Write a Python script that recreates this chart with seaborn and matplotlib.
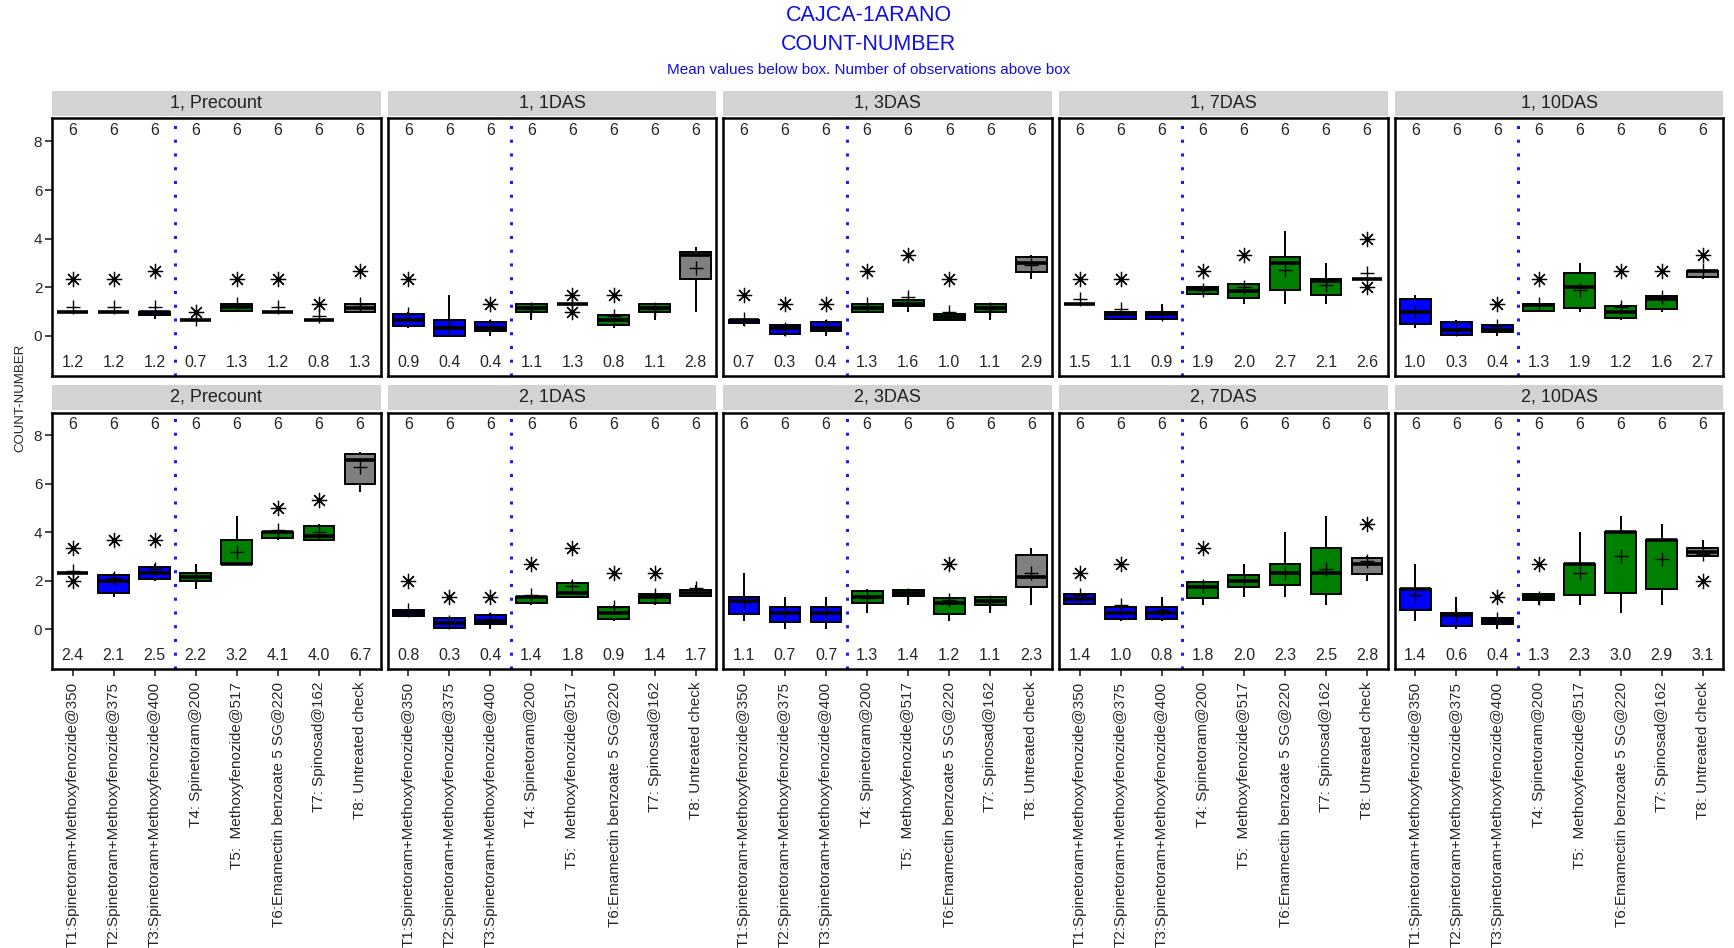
import numpy as np
import pandas as pd
import matplotlib.pyplot as plt
import seaborn as sns

treatments = ['T1:Spinetoram+Methoxyfenozide@350',
              'T2:Spinetoram+Methoxyfenozide@375',
              'T3:Spinetoram+Methoxyfenozide@400',
              'T4: Spinetoram@200',
              'T5:  Methoxyfenozide@517',
              'T6:Emamectin benzoate 5 SG@220',
              'T7: Spinosad@162',
              'T8: Untreated check']
days = ['Precount', '1DAS', '3DAS', '7DAS', '10DAS']
reps = ['1', '2']

# six observations per treatment
obs_1_precount = [[1, 1, 1, 1, 1, 2.33], [1, 1, 1, 1, 1, 2.33], [0.7, 0.8, 1, 1, 1, 2.67],
                  [0.67, 0.67, 0.67, 0.67, 0.67, 1.0], [1.0, 1.0, 1.17, 1.2, 1.33, 2.33],
                  [1, 1, 1, 1, 1, 2.33], [0.67, 0.67, 0.67, 0.67, 0.67, 1.33],
                  [1.0, 1.0, 1.0, 1.33, 1.33, 2.67]]
obs_1_1das = [[0.33, 0.33, 0.67, 0.67, 1.0, 2.33], [0, 0, 0, 0.67, 0.67, 1.67],
              [0, 0.17, 0.33, 0.33, 0.67, 1.33], [0.67, 1, 1, 1.33, 1.33, 1.33],
              [1.0, 1.33, 1.33, 1.33, 1.33, 1.67], [0.33, 0.4, 0.67, 0.67, 0.9, 1.67],
              [0.67, 1, 1, 1.33, 1.33, 1.33], [1.0, 2.0, 3.33, 3.33, 3.5, 3.67]]
obs_1_3das = [[0.4, 0.5, 0.67, 0.67, 0.67, 1.67], [0, 0, 0.33, 0.33, 0.5, 1.33],
              [0, 0.17, 0.33, 0.33, 0.67, 1.33], [1.0, 1.0, 1.0, 1.33, 1.33, 2.67],
              [1.0, 1.17, 1.33, 1.33, 1.5, 3.33], [0.67, 0.67, 0.67, 0.9, 0.9, 2.33],
              [0.67, 1, 1, 1.33, 1.33, 1.33], [2.33, 2.5, 3.0, 3.0, 3.33, 3.33]]
obs_1_7das = [[1.33, 1.33, 1.33, 1.33, 1.33, 2.33], [0.67, 0.67, 0.83, 1.0, 1.0, 2.33],
              [0.67, 0.67, 0.83, 1.0, 1.0, 1.33], [1.67, 1.67, 1.83, 2.0, 2.0, 2.67],
              [1.33, 1.5, 1.67, 2.0, 2.17, 3.33], [1.33, 1.5, 3.0, 3.0, 3.33, 4.33],
              [1.33, 1.5, 2.17, 2.33, 2.33, 3.0], [2.0, 2.33, 2.33, 2.33, 2.33, 4.0]]
obs_1_10das = [[0.33, 0.33, 1.0, 1.0, 1.67, 1.67], [0, 0, 0.17, 0.33, 0.67, 0.67],
               [0, 0.17, 0.17, 0.33, 0.5, 1.33], [1.0, 1.0, 1.17, 1.33, 1.33, 2.33],
               [1.0, 1.0, 1.67, 2.33, 2.67, 3.0], [0.67, 0.67, 1.0, 1.0, 1.33, 2.67],
               [1.0, 1.0, 1.5, 1.5, 1.67, 2.67], [2.33, 2.33, 2.67, 2.67, 2.67, 3.33]]
obs_2_precount = [[2.0, 2.33, 2.33, 2.33, 2.33, 3.33], [1.33, 1.33, 2.0, 2.0, 2.33, 3.67],
                  [2.0, 2.0, 2.33, 2.33, 2.67, 3.67], [1.67, 2.0, 2.0, 2.33, 2.33, 2.67],
                  [2.67, 2.67, 2.67, 2.67, 4.0, 4.67], [3.67, 3.67, 4.0, 4.0, 4.0, 5.0],
                  [3.67, 3.67, 3.67, 4.0, 4.33, 5.33], [5.67, 5.67, 7.0, 7.0, 7.33, 7.33]]
obs_2_1das = [[0.5, 0.5, 0.67, 0.67, 0.83, 2.0], [0, 0, 0.17, 0.33, 0.5, 1.33],
              [0, 0.17, 0.33, 0.33, 0.67, 1.33], [1.0, 1.0, 1.33, 1.33, 1.33, 2.67],
              [1.33, 1.33, 1.33, 1.67, 2.0, 3.33], [0.33, 0.33, 0.67, 0.67, 1.0, 2.33],
              [1.0, 1.0, 1.33, 1.33, 1.5, 2.33], [1.33, 1.33, 1.5, 1.5, 1.67, 1.83]]
obs_2_3das = [[0.33, 0.5, 1.0, 1.33, 1.33, 2.33], [0, 0.17, 0.67, 0.67, 1.0, 1.33],
              [0, 0.17, 0.67, 0.67, 1.0, 1.33], [0.67, 1.0, 1.33, 1.33, 1.67, 1.67],
              [1.0, 1.33, 1.5, 1.5, 1.67, 1.67], [0.33, 0.5, 1.0, 1.17, 1.33, 2.67],
              [0.67, 1.0, 1.0, 1.33, 1.33, 1.33], [1.0, 1.67, 2.0, 2.33, 3.33, 3.33]]
obs_2_7das = [[1.0, 1.0, 1.17, 1.33, 1.5, 2.33], [0.33, 0.33, 0.67, 0.67, 1.0, 2.67],
              [0.33, 0.33, 0.67, 0.67, 1.0, 1.33], [1.0, 1.17, 1.67, 1.83, 2.0, 3.33],
              [1.33, 1.67, 2.0, 2.0, 2.33, 2.67], [1.33, 1.67, 2.33, 2.33, 2.83, 4.0],
              [1.0, 1.17, 2.33, 2.33, 3.67, 4.67], [2.0, 2.17, 2.67, 2.67, 3.0, 4.33]]
obs_2_10das = [[0.33, 0.5, 1.67, 1.67, 1.67, 2.67], [0, 0, 0.5, 0.67, 0.67, 1.33],
               [0, 0.17, 0.33, 0.33, 0.5, 1.33], [1.0, 1.17, 1.33, 1.33, 1.5, 2.67],
               [1.0, 1.0, 2.67, 2.67, 2.67, 4.0], [0.67, 0.67, 4.0, 4.0, 4.0, 4.67],
               [1.0, 1.0, 3.67, 3.67, 3.67, 4.33], [2.0, 3.0, 3.0, 3.33, 3.33, 3.67]]

# mean values printed below the boxes
means_rep1 = [[1.2, 1.2, 1.2, 0.7, 1.3, 1.2, 0.8, 1.3],
              [0.9, 0.4, 0.4, 1.1, 1.3, 0.8, 1.1, 2.8],
              [0.7, 0.3, 0.4, 1.3, 1.6, 1.0, 1.1, 2.9],
              [1.5, 1.1, 0.9, 1.9, 2.0, 2.7, 2.1, 2.6],
              [1.0, 0.3, 0.4, 1.3, 1.9, 1.2, 1.6, 2.7]]
means_rep2 = [[2.4, 2.1, 2.5, 2.2, 3.2, 4.1, 4.0, 6.7],
              [0.8, 0.3, 0.4, 1.4, 1.8, 0.9, 1.4, 1.7],
              [1.1, 0.7, 0.7, 1.3, 1.4, 1.2, 1.1, 2.3],
              [1.4, 1.0, 0.8, 1.8, 2.0, 2.3, 2.5, 2.8],
              [1.4, 0.6, 0.4, 1.3, 2.3, 3.0, 2.9, 3.1]]

obs = [[obs_1_precount, obs_1_1das, obs_1_3das, obs_1_7das, obs_1_10das],
       [obs_2_precount, obs_2_1das, obs_2_3das, obs_2_7das, obs_2_10das]]
means = [means_rep1, means_rep2]

rows = []
for r, rep in enumerate(reps):
    for d, day in enumerate(days):
        for t, trt in enumerate(treatments):
            for v in obs[r][d][t]:
                rows.append({'rep': rep, 'day': day, 'trt': trt, 'count': v})
df = pd.DataFrame(rows)

colors = ['#0000FF'] * 3 + ['#008000'] * 4 + ['#808080']
pal = dict(zip(treatments, colors))

sns.set_style('white')
plt.rcParams['font.family'] = ['Liberation Sans', 'DejaVu Sans']

W, H = 1734, 948
fig = plt.figure(figsize=(W / 100, H / 100), dpi=100)

ylo, yhi = -1.65, 8.95
pw = 328.5
row_top = [118.3, 412.5]
row_bot = [376.0, 669.0]
strip_top = [90.7, 385.0]

for r, rep in enumerate(reps):
    for d, day in enumerate(days):
        x0 = 52 + d * 335.7
        ax = fig.add_axes([x0 / W, 1 - row_bot[r] / H, pw / W,
                           (row_bot[r] - row_top[r]) / H])
        sub = df[(df['rep'] == rep) & (df['day'] == day)]
        sns.boxplot(data=sub, x='trt', y='count', hue='trt', order=treatments,
                    hue_order=treatments, palette=pal, saturation=1, legend=False,
                    width=0.75, linecolor='black', linewidth=1.4, showcaps=False,
                    whis=1.5, ax=ax,
                    medianprops=dict(color='black', linewidth=2.6),
                    flierprops=dict(marker=(8, 2, 0), markersize=11,
                                    markeredgecolor='black', markeredgewidth=0.9))
        m = means[r][d]
        ax.plot(range(len(treatments)), m, linestyle='none', marker='+',
                color='black', markersize=10, markeredgewidth=1.0, zorder=6)
        for i, trt in enumerate(treatments):
            n = len(obs[r][d][i])
            ax.text(i, 8.45, str(n), ha='center', va='center', fontsize=11.5)
            ax.text(i, -1.1, f'{m[i]:.1f}', ha='center', va='center', fontsize=11.5)
        ax.axvline(2.5, color='#1a1aff', linestyle=(0, (1, 3.5)), linewidth=2.2)
        ax.set_xlim(-0.5, 7.5)
        ax.set_ylim(ylo, yhi)
        ax.set_xlabel('')
        ax.set_ylabel('')
        for s in ax.spines.values():
            s.set_linewidth(1.8)
            s.set_color('black')
        if d == 0:
            ax.set_yticks([0, 2, 4, 6, 8])
            ax.tick_params(axis='y', left=True, length=5, width=1.2, labelsize=11, pad=2)
        else:
            ax.set_yticks([])
        if r == 1:
            ax.tick_params(axis='x', bottom=True, length=5, width=1.2, pad=4.3)
            ax.set_xticks(range(len(treatments)))
            ax.set_xticklabels(treatments, rotation=90, fontsize=11)
        else:
            ax.set_xticks([])

        # panel strip
        sax = fig.add_axes([x0 / W, 1 - (row_top[r] - 2.5) / H, pw / W,
                            (row_top[r] - 2.5 - strip_top[r]) / H])
        sax.set_facecolor('#D3D3D3')
        sax.set_xticks([])
        sax.set_yticks([])
        for s in sax.spines.values():
            s.set_visible(False)
        sax.text(0.5, 0.5, f'{rep}, {day}', ha='center', va='center',
                 fontsize=13, color='#222222', transform=sax.transAxes)

fig.text(0.501, 0.984, 'CAJCA-1ARANO', ha='center', va='center',
         fontsize=15.5, color='#1010E0')
fig.text(0.501, 0.9535, 'COUNT-NUMBER', ha='center', va='center',
         fontsize=15.5, color='#1010E0')
fig.text(0.501, 0.9265, 'Mean values below box. Number of observations above box',
         ha='center', va='center', fontsize=11, color='#1010E0')
fig.text(0.0115, 0.58, 'COUNT-NUMBER', ha='center', va='center', rotation=90,
         fontsize=9.5)

plt.savefig('out.png', dpi=100)
